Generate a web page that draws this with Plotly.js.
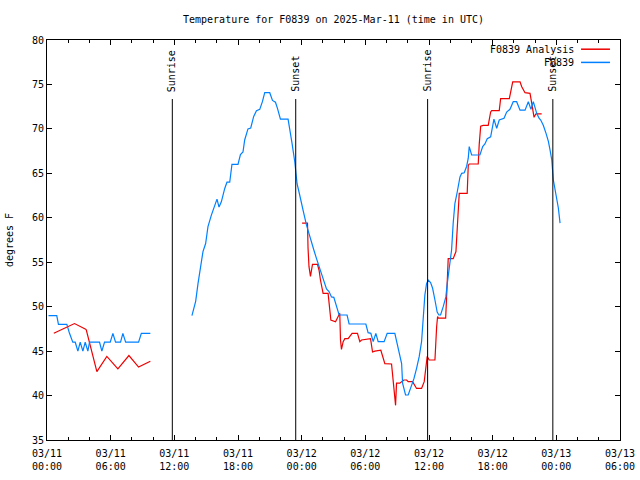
<!DOCTYPE html>
<html><head><meta charset="utf-8">
<script src="https://cdn.plot.ly/plotly-3.0.1.min.js"></script>
<style>html,body{margin:0;padding:0;background:#fff}#chart{width:640px;height:480px}</style>
</head><body><div id="chart"></div>
<script>
// ---- data (hours since 2025-03-11 00:00 UTC, temperature in deg F) ----
const stationName = "F0839";
const titleText = "Temperature for F0839 on 2025-Mar-11 (time in UTC)";
const obsHours = [0.14,0.92,1.08,1.87,2.12,2.43,2.66,2.91,3.13,3.38,3.60,3.85,4.01,4.95,5.17,5.42,5.96,6.21,6.46,6.93,7.15,7.41,8.63,8.89,9.74,
  null,
  13.66,14.01,14.23,14.45,14.70,14.95,15.17,15.49,15.80,16.02,16.21,16.43,16.75,16.96,17.22,17.43,18.00,18.23,18.47,18.63,18.94,19.20,19.48,19.74,20.05,20.30,20.52,20.99,21.25,21.53,21.72,22.00,22.72,22.88,23.09,23.35,23.51,23.57,
  23.75,23.98,24.20,24.45,24.70,24.92,25.14,25.40,25.64,25.87,26.08,26.34,26.58,26.81,27.03,27.28,27.53,28.28,28.47,30.05,30.26,30.52,30.74,30.99,31.21,31.77,32.06,32.78,32.94,33.16,33.42,33.51,33.79,34.04,34.26,34.58,34.83,35.08,35.30,35.45,35.61,35.77,35.92,36.15,36.34,36.56,36.77,36.93,
  37.09,37.34,37.59,37.72,37.91,38.13,38.28,38.44,38.66,38.92,39.08,39.32,39.55,39.70,39.79,40.02,40.80,41.06,41.27,41.49,41.81,42.00,42.12,42.38,42.62,43.07,43.32,43.63,43.94,44.26,44.58,45.05,45.36,45.61,45.83,46.15,46.37,46.53,46.77,47.03,47.25,47.41,47.57,47.72,47.97,48.19,48.35];
const obsTemps = [49,49,48,48,47,46,46,45,46,45,46,45,46,46,45,46,46,47,46,46,47,46,46,47,47,
  null,
  49.0,50.6,52.6,54.3,56.2,57.1,59.0,60.3,61.4,62.1,61.2,61.8,63.3,64.0,64.0,66.0,66.0,67.1,67.4,68.75,70.0,70.1,71.4,72.05,72.2,73.06,74.07,74.07,73.2,73.0,72.3,71.1,71.1,69.7,68.4,66.3,64.6,63.8,
  62.9,61.8,60.5,59.2,58.1,57.1,56.4,55.4,54.5,53.6,52.8,52.0,51.7,51.1,51.05,50.0,49.06,49.06,48.05,48.05,47.07,47.0,46.06,47.0,46.06,46.06,47.0,47.0,46.06,45.1,43.6,41.4,40.06,40.06,40.8,41.9,43.06,44.4,46.06,48.5,51.3,52.6,53.0,52.7,52.07,50.75,49.4,49.06,
  49.06,50.0,51.1,52.6,54.7,56.4,59.4,61.6,62.9,64.6,65.0,65.07,65.8,66.7,68.0,67.06,67.06,68.0,68.3,68.9,69.1,70.6,71.1,70.07,71.0,71.2,71.9,72.2,73.06,73.06,72.1,72.1,73.06,72.2,73.06,71.75,71.2,71.0,70.4,69.5,68.6,67.6,66.5,64.25,62.75,61.1,59.4];
const anaHours = [0.64,2.59,3.60,3.70,4.70,5.64,6.68,7.72,8.63,9.74,
  null,
  24.04,24.55,24.60,24.69,24.83,24.92,25.02,25.49,25.64,25.77,25.92,26.02,26.49,26.65,26.75,27.19,27.43,27.59,27.66,27.75,27.91,28.07,28.38,28.75,29.26,29.48,29.64,30.11,30.49,30.68,30.90,31.46,31.68,31.84,32.47,32.62,32.78,32.85,32.94,33.25,33.63,33.89,34.04,34.45,34.83,35.30,35.55,35.71,35.83,36.02,36.56,36.72,36.81,36.87,37.57,37.66,37.81,38.28,38.54,38.60,38.75,38.85,39.60,39.70,39.79,40.64,40.73,40.87,41.11,41.58,41.81,41.91,42.62,42.75,43.57,43.73,43.89,44.58,44.74,45.05,45.52,45.68,45.90,46.08,46.62];
const anaTemps = [47.0,48.1,47.5,47.4,42.7,44.4,43.0,44.5,43.2,43.85,
  null,
  59.4,59.4,56.6,54.5,53.4,54.3,54.75,54.75,54.1,53.0,52.07,51.5,51.5,50.0,48.5,48.3,48.9,49.25,46.25,45.2,46.06,46.4,46.4,47.0,47.0,46.06,46.25,46.3,46.4,44.9,45.0,45.1,44.2,43.6,43.55,41.4,39.7,38.9,41.4,41.4,41.75,41.75,41.56,41.56,40.8,40.8,41.56,43.06,44.4,44.0,44.0,47.75,48.9,48.7,48.7,51.1,55.4,55.4,56.2,57.5,61.6,62.75,62.75,65.9,66.05,66.05,68.2,70.3,70.4,70.4,71.9,72.05,72.05,73.4,73.4,74.6,75.3,75.3,74.75,74.07,74.0,72.9,71.3,71.7,71.7];
const sunLabels = ["Sunrise","Sunset","Sunrise","Sunset"];
const sunHours = [11.81,23.44,35.87,47.67];
const xTickHours = [0,6,12,18,24,30,36,42,48,54];
const xTickText = ["03/11<br>00:00","03/11<br>06:00","03/11<br>12:00","03/11<br>18:00","03/12<br>00:00","03/12<br>06:00","03/12<br>12:00","03/12<br>18:00","03/13<br>00:00","03/13<br>06:00"];
const yTickVals = [35,40,45,50,55,60,65,70,75,80];
const seriesNames = ["F0839 Analysis","F0839"];
const seriesColors = ["#ee0000","#0080ff"];

// ---- build ----
const t0 = Date.UTC(2025,2,11,0,0);
const toMs = h => (h === null ? null : t0 + h*3600000);
const FONT = {family:"DejaVu Sans Mono, Liberation Mono, monospace", size:10, color:"#000"};

const traces = [
  {x: anaHours.map(toMs), y: anaTemps, type:"scatter", mode:"lines", name: seriesNames[0],
   line:{color:seriesColors[0], width:1.2}, hoverinfo:"skip"},
  {x: obsHours.map(toMs), y: obsTemps, type:"scatter", mode:"lines", name: seriesNames[1],
   line:{color:seriesColors[1], width:1.2}, hoverinfo:"skip"}
];

const lineTop = 0.8525, labelBottom = 0.8675;
const shapes = sunHours.map(h => ({type:"line", xref:"x", yref:"paper", x0:toMs(h), x1:toMs(h), y0:0, y1:lineTop,
  line:{color:"#000", width:1}}));
const annotations = sunHours.map((h,i) => ({x:toMs(h), xref:"x", y:labelBottom, yref:"paper", text:sunLabels[i],
  textangle:-90, showarrow:false, xanchor:"center", yanchor:"bottom", font:FONT, borderpad:0}));

// gnuplot-style key: text on the left, sample line on the right
const keyY = [0.977, 0.944];
seriesNames.forEach((n,i) => {
  annotations.push({x:0.9214, xref:"paper", y:keyY[i], yref:"paper", text:n, showarrow:false,
    xanchor:"right", yanchor:"middle", font:FONT, borderpad:0});
  shapes.push({type:"line", xref:"paper", yref:"paper", x0:0.932, x1:0.9825, y0:keyY[i], y1:keyY[i],
    line:{color:seriesColors[i], width:1.5}});
});

const layout = {
  width:640, height:480,
  margin:{l:47, r:20, t:40, b:40, pad:0},
  paper_bgcolor:"#fff", plot_bgcolor:"#fff",
  showlegend:false,
  font:FONT,
  title:{text:titleText, font:FONT, x:0.5, xref:"paper", y:1-19/480, yref:"container", yanchor:"middle"},
  xaxis:{type:"date", range:[toMs(0), toMs(54)], tickvals:xTickHours.map(toMs), ticktext:xTickText,
    ticks:"inside", ticklen:5, tickcolor:"#000", tickwidth:1, showline:true, linecolor:"#000", linewidth:1,
    mirror:"ticks", showgrid:false, zeroline:false, tickfont:FONT, automargin:false, ticklabelstandoff:4,
    minor:{dtick:7200000, tick0:toMs(0), ticks:"inside", ticklen:3, tickcolor:"#000", showgrid:false}},
  yaxis:{range:[35,80], tickvals:yTickVals, ticks:"inside", ticklen:5, tickcolor:"#000", tickwidth:1,
    showline:true, linecolor:"#000", linewidth:1, mirror:"ticks", showgrid:false, zeroline:false,
    tickfont:FONT, automargin:false,
    title:{text:"degrees F", font:FONT, standoff:16}},
  shapes:shapes,
  annotations:annotations
};

Plotly.newPlot("chart", traces, layout, {staticPlot:true, displayModeBar:false});
</script>
</body></html>
